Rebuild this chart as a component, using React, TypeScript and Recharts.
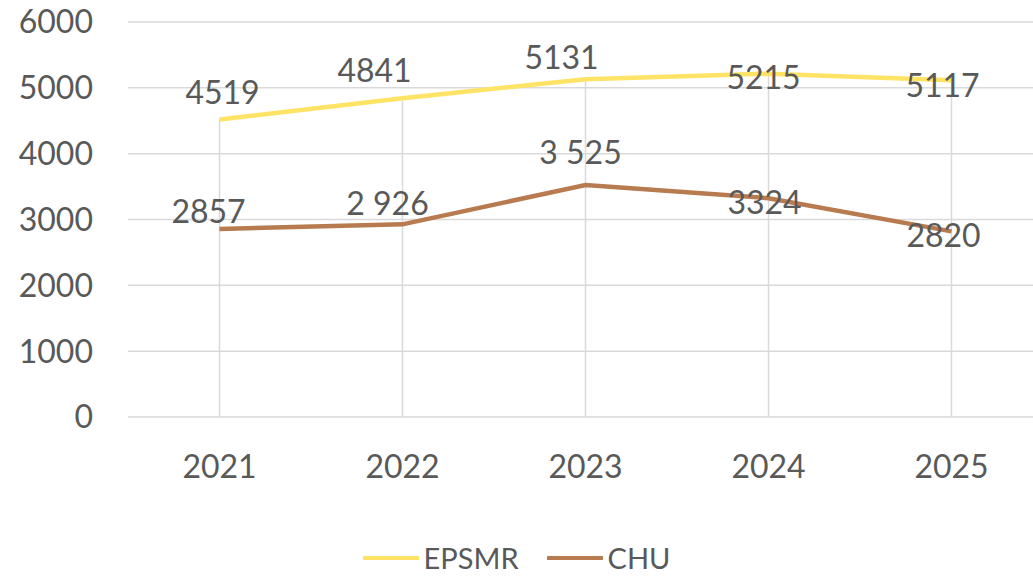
import React from "react";
import {
  LineChart,
  Line,
  XAxis,
  YAxis,
  CartesianGrid,
  Legend,
  LabelList,
  ReferenceLine,
} from "recharts";

const years = ["2021", "2022", "2023", "2024", "2025"];
const epsmrValues = [4519, 4841, 5131, 5215, 5117];
const chuValues = [2857, 2926, 3525, 3324, 2820];
const epsmrLabels = ["4519", "4841", "5131", "5215", "5117"];
const chuLabels = ["2857", "2 926", "3 525", "3324", "2820"];
const yTicks = [0, 1000, 2000, 3000, 4000, 5000, 6000];

// label nudges (style only)
const epsmrNudge = [
  [3, -28],
  [-28, -29],
  [-24, -23],
  [-5, 3],
  [-9, 4],
];
const chuNudge = [
  [-11, -18],
  [-15, -22],
  [-5, -33],
  [-4, 3],
  [-8, 3],
];

const data = years.map((y, i) => ({
  year: y,
  EPSMR: epsmrValues[i],
  CHU: chuValues[i],
}));

const FONT = "Lato, 'Liberation Sans', sans-serif";
const TEXT = "#595959";
const GRID = "#D9D9D9";
const YELLOW = "#FFE365";
const BROWN = "#B87B4F";

const makeLabel = (labels: string[], nudge: number[][]) => (props: any) => {
  const { x, y, index } = props;
  const [dx, dy] = nudge[index];
  return (
    <text
      x={x + dx}
      y={y + dy}
      textAnchor="middle"
      dominantBaseline="central"
      fill={TEXT}
      fontSize={32}
      fontFamily={FONT}
    >
      {labels[index]}
    </text>
  );
};

const LegendContent = () => (
  <div
    style={{
      display: "flex",
      justifyContent: "center",
      alignItems: "center",
      height: 38,
      lineHeight: "30px",
      fontFamily: FONT,
      fontSize: 29,
      color: TEXT,
      paddingRight: 10,
    }}
  >
    <svg width={56} height={6} style={{ marginRight: 5 }}>
      <line x1={1} y1={3} x2={55} y2={3} stroke={YELLOW} strokeWidth={4} strokeLinecap="round" />
    </svg>
    <span style={{ marginRight: 28 }}>EPSMR</span>
    <svg width={56} height={6} style={{ marginRight: 5 }}>
      <line x1={1} y1={3} x2={55} y2={3} stroke={BROWN} strokeWidth={4} strokeLinecap="round" />
    </svg>
    <span>CHU</span>
  </div>
);

export default function App() {
  return (
    <div
      style={{
        position: "absolute",
        left: 0,
        top: 0,
        width: 1033,
        height: 577,
        overflow: "hidden",
        background: "#fff",
        fontFamily: FONT,
      }}
    >
      <LineChart
        width={1043}
        height={577}
        data={data}
        margin={{ top: 22, right: 0, left: 0, bottom: 0 }}
      >
        <CartesianGrid vertical={false} stroke={GRID} strokeWidth={1.5} />
        <XAxis
          dataKey="year"
          axisLine={false}
          tickLine={false}
          tickSize={0}
          tickMargin={38}
          height={122}
          padding={{ left: 91.5, right: 91.5 }}
          tick={{ fill: TEXT, fontSize: 32, fontFamily: FONT }}
        />
        <YAxis
          domain={[0, 6000]}
          ticks={yTicks}
          width={128}
          axisLine={false}
          tickLine={false}
          tickSize={0}
          tickMargin={35}
          interval={0}
          tick={{ fill: TEXT, fontSize: 32, fontFamily: FONT }}
        />
        {years.map((y, i) => (
          <ReferenceLine
            key={y}
            segment={[
              { x: y, y: 0 },
              { x: y, y: Math.max(epsmrValues[i], chuValues[i]) },
            ]}
            stroke={GRID}
            strokeWidth={1.5}
            ifOverflow="visible"
          />
        ))}
        <Legend verticalAlign="bottom" content={<LegendContent />} />
        <Line
          type="linear"
          dataKey="EPSMR"
          stroke={YELLOW}
          strokeWidth={4.5}
          dot={false}
          isAnimationActive={false}
        >
          <LabelList dataKey="EPSMR" content={makeLabel(epsmrLabels, epsmrNudge)} />
        </Line>
        <Line
          type="linear"
          dataKey="CHU"
          stroke={BROWN}
          strokeWidth={4.5}
          dot={false}
          isAnimationActive={false}
        >
          <LabelList dataKey="CHU" content={makeLabel(chuLabels, chuNudge)} />
        </Line>
      </LineChart>
    </div>
  );
}
